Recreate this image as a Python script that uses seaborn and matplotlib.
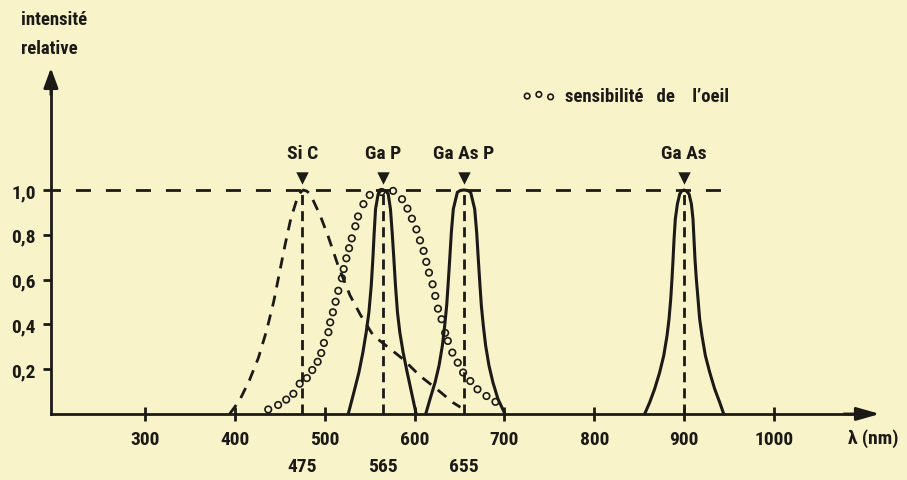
import matplotlib
matplotlib.use("Agg")
import matplotlib.pyplot as plt
import seaborn as sns
from matplotlib import font_manager as fm

# ---------------- data ----------------
sic_nm = [394, 405, 416, 426, 435, 443, 450, 456, 462, 469, 473, 476, 480, 484, 495, 504, 515, 528,
          540, 554, 573, 587, 606, 625, 643, 651]
sic_I = [0.0, 0.06, 0.15, 0.25, 0.37, 0.50, 0.64, 0.76, 0.87, 0.96, 0.99, 1.0, 0.995, 0.98, 0.885,
         0.79, 0.66, 0.53, 0.44, 0.35, 0.29, 0.245, 0.17, 0.11, 0.05, 0.03]

gap_nm = [526.1, 532.4, 538, 542.4, 546.1, 549.1, 551.7, 553.5, 555, 556.5, 559.4, 562, 565,
          568, 570.6, 573.1, 575, 576.9, 578.7, 580.9, 583.5, 587.2, 591.7, 596.5, 601.7]
gap_I = [0.0, 0.097, 0.186, 0.275, 0.365, 0.454, 0.573, 0.692, 0.811, 0.915, 0.982, 0.996, 1.0,
         0.996, 0.982, 0.915, 0.811, 0.692, 0.573, 0.454, 0.365, 0.275, 0.186, 0.097, 0.0]

gaasp_nm = [612.4, 617.2, 622.8, 627.2, 630.9, 633.5, 635.7, 637.2, 639.1, 640.9, 643.1, 647.6,
            651, 655, 659, 662.4, 666.9, 669.1, 670.9, 672.8, 674.3, 676.5, 679.1, 682.8, 687.2,
            692.8, 700.6]
gaasp_I = [0.0, 0.067, 0.141, 0.216, 0.305, 0.394, 0.484, 0.573, 0.692, 0.811, 0.915, 0.99, 0.998,
           1.0, 0.998, 0.99, 0.915, 0.811, 0.692, 0.573, 0.484, 0.394, 0.305, 0.216, 0.141, 0.067,
           0.0]

gaas_nm = [856.2, 861.8, 867.3, 872.9, 877.4, 881.1, 883.3, 885.2, 886.6, 887.8, 888.9, 890.3,
           892.6, 895.2, 897.5, 900, 902.5, 905.6, 908.2, 910, 911.1, 912.2, 913.7, 915.6, 917.4,
           920, 923.8, 928.6, 934.1, 939.7, 944.2]
gaas_I = [0.0, 0.052, 0.112, 0.186, 0.26, 0.35, 0.424, 0.513, 0.603, 0.692, 0.781, 0.87, 0.9375,
          0.982, 0.996, 1.0, 0.996, 0.982, 0.9375, 0.87, 0.781, 0.692, 0.603, 0.513, 0.424, 0.35,
          0.26, 0.186, 0.112, 0.052, 0.0]

eye_nm = [437, 448, 457, 465, 472, 480, 486, 492, 496, 499, 504, 506, 509, 512, 515, 519, 521, 524,
          527, 530, 534, 537, 543, 550, 563, 576, 586, 592, 597, 602, 606, 610, 613, 616, 620, 623,
          626, 630, 634, 637, 642, 648, 654, 662, 670, 680, 690]
eye_I = [0.02, 0.04, 0.064, 0.09, 0.135, 0.16, 0.196, 0.233, 0.272, 0.317, 0.365, 0.409, 0.454,
         0.501, 0.55, 0.606, 0.647, 0.695, 0.74, 0.784, 0.838, 0.882, 0.937, 0.978, 0.991, 0.996,
         0.959, 0.917, 0.872, 0.824, 0.775, 0.728, 0.679, 0.631, 0.579, 0.527, 0.47, 0.423, 0.362,
         0.326, 0.274, 0.229, 0.185, 0.147, 0.11, 0.08, 0.054]

peak_names = ["Si C", "Ga P", "Ga As P", "Ga As"]
peak_nm = [475, 565, 655, 900]
peak_I = [1.0, 1.0, 1.0, 1.0]
extra_labels = ["475", "565", "655"]

x_ticks = [300, 400, 500, 600, 700, 800, 900, 1000]
x_ticklabels = ["300", "400", "500", "600", "700", "800", "900", "1000"]
y_ticks = [0.2, 0.4, 0.6, 0.8, 1.0]
y_ticklabels = ["0,2", "0,4", "0,6", "0,8", "1,0"]

x_label = "λ (nm)"
y_label_lines = ["intensité", "relative"]
eye_label = "sensibilité   de    l’oeil"

# ---------------- style ----------------
sns.set_theme(style="white")
ttf = fm.fontManager.ttflist
names = {f.name for f in ttf}
fam, stretch = None, "normal"
for c in ["Liberation Sans Narrow", "Arial Narrow", "Roboto Condensed", "Open Sans Condensed"]:
    if c in names:
        fam = c
        break
if fam is None:
    if any(f.name == "Roboto" and f.stretch in ("condensed", "semi-condensed") and
           f.weight in (700, "bold") for f in ttf):
        fam, stretch = "Roboto", "condensed"
    elif any(f.name == "DejaVu Sans" and f.stretch in ("condensed", "semi-condensed")
             for f in ttf):
        fam, stretch = "DejaVu Sans", "condensed"
    else:
        fam = "Liberation Sans"
plt.rcParams["font.family"] = [fam, "DejaVu Sans"]
plt.rcParams["font.stretch"] = stretch
plt.rcParams["font.weight"] = "bold"

ink = "#1c1a16"
bg = "#f8f3c9"
fs = 14

fig = plt.figure(figsize=(9.07, 4.81), dpi=100, facecolor=bg)
ax = fig.add_axes([0, 0, 1, 1], facecolor=bg)
ax.set_xlim(138.3, 1148.3)
ax.set_ylim(-0.295, 1.853)

x0 = 195      # wavelength where the intensity axis stands
x_end = 1118
y_top = 1.545

for s in ["top", "right"]:
    ax.spines[s].set_visible(False)
ax.spines["left"].set_position(("data", x0))
ax.spines["bottom"].set_position(("data", 0))
ax.spines["left"].set_bounds(0, y_top - 0.05)
ax.spines["bottom"].set_bounds(x0, x_end - 15)
for s in ["left", "bottom"]:
    ax.spines[s].set_color(ink)
    ax.spines[s].set_linewidth(2.0)

ax.annotate("", xy=(x0, y_top), xytext=(x0, y_top - 0.12),
            arrowprops=dict(arrowstyle="-|>,head_length=0.6,head_width=0.22",
                            color=ink, lw=2.0, mutation_scale=20, shrinkA=0, shrinkB=0))
ax.annotate("", xy=(x_end, 0), xytext=(x_end - 40, 0),
            arrowprops=dict(arrowstyle="-|>,head_length=0.7,head_width=0.2",
                            color=ink, lw=2.0, mutation_scale=20, shrinkA=0, shrinkB=0))

ax.set_xticks(x_ticks)
ax.set_xticklabels(x_ticklabels)
ax.set_yticks(y_ticks)
ax.set_yticklabels(y_ticklabels)
ax.tick_params(axis="x", which="major", bottom=True, direction="inout", length=10, width=2,
               pad=6.5, labelsize=fs, colors=ink)
ax.tick_params(axis="y", which="major", left=True, direction="out", length=6, width=2, pad=5,
               labelsize=fs, colors=ink)
ax.set_xlabel("")
ax.set_ylabel("")
ax.grid(False)

# reference dashed lines
ax.hlines(1.0, x0, 956, colors=ink, lw=2.0, linestyles=(2, (5.4, 5.4)))
ax.vlines(peak_nm, 0, peak_I, colors=ink, lw=2.0, linestyles=(0, (3.6, 2.2)))

# emission curves
sns.lineplot(x=sic_nm, y=sic_I, ax=ax, color=ink, lw=2.0, sort=False,
             linestyle=(0, (4, 3)))
for xs, ys in [(gap_nm, gap_I), (gaasp_nm, gaasp_I), (gaas_nm, gaas_I)]:
    sns.lineplot(x=xs, y=ys, ax=ax, color=ink, lw=2.2, sort=False)
for ln in ax.lines:
    ln.set_solid_joinstyle("round")
    ln.set_dash_joinstyle("round")

# eye sensitivity (circles)
sns.scatterplot(x=eye_nm, y=eye_I, ax=ax, marker="o", s=22, color=ink, linewidth=1.2,
                label=eye_label, zorder=5)
pts = ax.collections[-1]
pts.set_facecolor("none")
pts.set_edgecolor(ink)

# peak triangles and names
sns.scatterplot(x=peak_nm, y=[p + 0.055 for p in peak_I], ax=ax, marker="v", s=80,
                color=ink, edgecolor=ink, linewidth=0, legend=False, zorder=6)
for name, xp, yp in zip(peak_names, peak_nm, peak_I):
    ax.text(xp, yp + 0.165, name, ha="center", va="center", fontsize=fs, color=ink)
for lab, xp in zip(extra_labels, peak_nm):
    ax.text(xp, -0.232, lab, ha="center", va="center", fontsize=fs, color=ink)

ax.text(1111, -0.105, x_label, ha="center", va="center", fontsize=fs, color=ink)

fig.text(21 / 907, 1 - 25 / 481, y_label_lines[0], ha="left", va="baseline",
         fontsize=13.5, color=ink)
fig.text(21 / 907, 1 - 54 / 481, y_label_lines[1], ha="left", va="baseline",
         fontsize=13.5, color=ink)

leg = ax.legend(loc="center left", bbox_to_anchor=(0.575, 1 - 97 / 481), frameon=False,
                scatterpoints=3, handlelength=1.85, handletextpad=0.45, borderpad=0,
                borderaxespad=0, fontsize=13.5, labelcolor=ink, markerscale=0.85)

fig.savefig("out.png", dpi=100, facecolor=bg)
print(fam, stretch)
